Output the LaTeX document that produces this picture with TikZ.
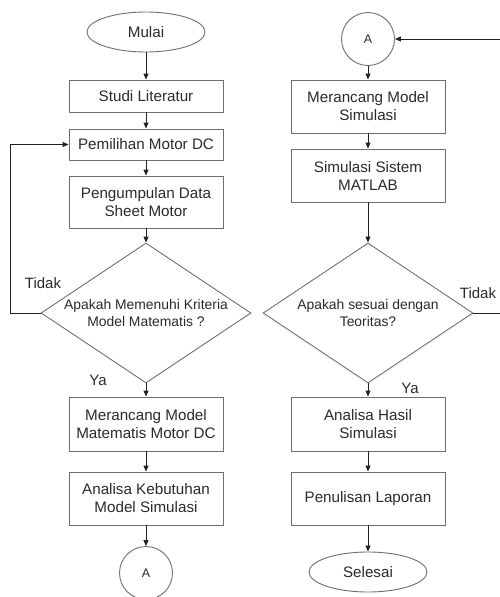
\documentclass[tikz,border=0pt]{standalone}
\usepackage{fontspec}
\setmainfont{Liberation Sans}
\usetikzlibrary{shapes.geometric,arrows.meta}
\definecolor{txt}{HTML}{2A2A2A}
\definecolor{bord}{HTML}{6E6E6E}
\definecolor{arr}{HTML}{222222}
\begin{document}
\begin{tikzpicture}[x=1pt,y=-1pt,
  every node/.style={text=txt},
  proc/.style={draw=bord,line width=0.9pt,rectangle,minimum width=154pt,inner sep=0pt,align=center,font=\fontsize{15.2}{18}\selectfont},
  term/.style={draw=bord,line width=0.9pt,ellipse,minimum width=118pt,minimum height=40pt,inner sep=0pt,font=\fontsize{15.2}{18}\selectfont},
  conn/.style={draw=bord,line width=0.9pt,circle,minimum size=53pt,inner sep=0pt,font=\fontsize{12.5}{15}\selectfont},
  dec/.style={draw=bord,line width=0.9pt,diamond,shape aspect=1.5,minimum width=210pt,minimum height=140pt,inner sep=0pt,align=center,font=\fontsize{13.9}{17}\selectfont},
  lbl/.style={font=\fontsize{15}{18}\selectfont,inner sep=0pt},
  flow/.style={draw=arr,line width=0.9pt,-{Triangle[length=6pt,width=5pt]}}
]
\useasboundingbox (0,0) rectangle (500,597);
\begin{scope}
\clip (0,0) rectangle (500,597);
% left column
\node[term] (mulai) at (146,32) {Mulai};
\node[proc,minimum height=32pt] (studi) at (146,96) {Studi Literatur};
\node[proc,minimum height=31pt] (pemilihan) at (146,144.5) {Pemilihan Motor DC};
\node[proc,minimum height=52pt] (pengumpulan) at (146,202) {Pengumpulan Data\\Sheet Motor};
\node[dec] (kriteria) at (146,313) {Apakah Memenuhi Kriteria\\Model Matematis ?};
\node[proc,minimum height=54pt] (matematis) at (146,424) {Merancang Model\\Matematis Motor DC};
\node[proc,minimum height=53pt] (kebutuhan) at (146,498.5) {Analisa Kebutuhan\\Model Simulasi};
\node[conn] (aout) at (146,573) {A};
% right column
\node[conn] (ain) at (368,39) {A};
\node[proc,minimum height=53pt] (simmodel) at (368,106.5) {Merancang Model\\Simulasi};
\node[proc,minimum height=53pt] (matlab) at (368,175.5) {Simulasi Sistem\\MATLAB};
\node[dec] (teori) at (368,313) {Apakah sesuai dengan\\Teoritas?};
\node[proc,minimum height=54pt] (hasil) at (368,424) {Analisa Hasil\\Simulasi};
\node[proc,minimum height=53pt] (laporan) at (368,498.5) {Penulisan Laporan};
\node[term] (selesai) at (368,572) {Selesai};
% labels
\node[lbl] (tidak1) at (43,283) {Tidak};
\node[lbl] (ya1) at (98,380) {Ya};
\node[lbl] (tidak2) at (478,293) {Tidak};
\node[lbl] (ya2) at (410,388) {Ya};
% coordinates
\coordinate (lb) at (10,313);
\coordinate (lt) at (10,144.5);
\coordinate (rb) at (510,313);
\coordinate (rt) at (510,39);
% arrows left
\draw[flow] (mulai) -- (studi);
\draw[flow] (studi) -- (pemilihan);
\draw[flow] (pemilihan) -- (pengumpulan);
\draw[flow] (pengumpulan) -- (kriteria);
\draw[flow] (kriteria) -- (matematis);
\draw[flow] (matematis) -- (kebutuhan);
\draw[flow] (kebutuhan) -- (aout);
\draw[flow] (kriteria.west) -- (lb) -- (lt) -- (pemilihan.west);
% arrows right
\draw[flow] (ain) -- (simmodel);
\draw[flow] (simmodel) -- (matlab);
\draw[flow] (matlab) -- (teori);
\draw[flow] (teori) -- (hasil);
\draw[flow] (hasil) -- (laporan);
\draw[flow] (laporan) -- (selesai);
\draw[flow] (teori.east) -- (rb) -- (rt) -- (ain.east);
\end{scope}
\end{tikzpicture}
\end{document}
